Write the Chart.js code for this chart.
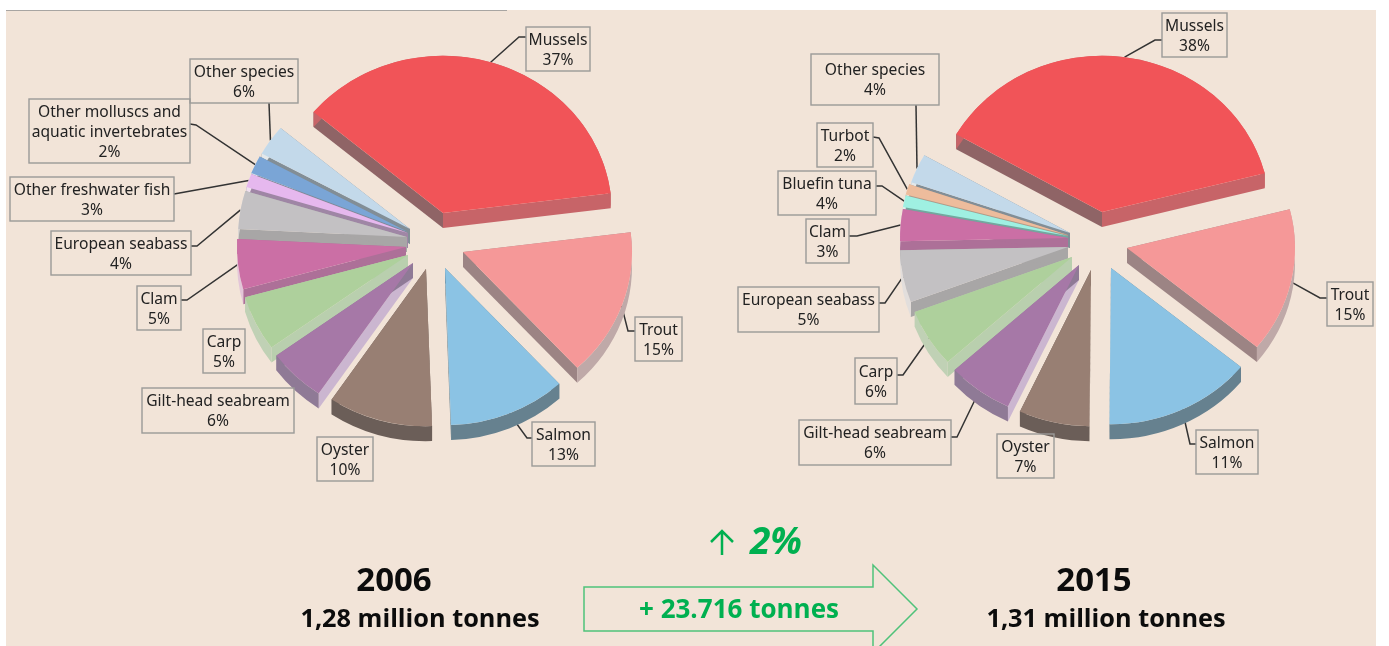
<!DOCTYPE html>
<html>
<head>
<meta charset="utf-8">
<script src="https://cdn.jsdelivr.net/npm/chart.js@4"></script>
<style>
    html, body { margin: 0; background: #fff; overflow: hidden; }
    #page { position: relative; width: 1389px; height: 646px; overflow: hidden; }
    #panel { position: absolute; left: 6px; top: 10px; width: 1370px; height: 636px; background: #f2e4d8; }
    #topline { position: absolute; left: 6px; top: 10px; width: 501px; height: 1px; background: #a8a5a2; }
    canvas { position: absolute; top: 0; }
    #arrow { position: absolute; left: 0; top: 0; }
    .txt { position: absolute; font-family: "Open Sans", sans-serif; font-weight: 700; white-space: nowrap; transform: translateX(-50%); line-height: 1; }
    .black { color: #0c0c0c; }
    .green { color: #00b050; }
</style>
</head>
<body>
<div id="page">
    <div id="panel"></div>
    <div id="topline"></div>
    <canvas id="pie2006" width="690" height="494" style="left:0"></canvas>
    <canvas id="pie2015" width="699" height="494" style="left:690px"></canvas>
    <svg id="arrow" width="1389" height="646">
        <path d="M584 587 H873 V565 L917 609 L873 653 V631 H584 Z" fill="none" stroke="#4fc27a" stroke-width="1.5"/>
        <path d="M722 555 V531 M711 542 L722 531 L733 542" fill="none" stroke="#00b050" stroke-width="2.5"/>
    </svg>
    <div class="txt black" style="left:394px;top:562px;font-size:33px">2006</div>
    <div class="txt black" style="left:420px;top:605px;font-size:25.3px">1,28 million tonnes</div>
    <div class="txt black" style="left:1094px;top:562px;font-size:33px">2015</div>
    <div class="txt black" style="left:1106px;top:605px;font-size:25.3px">1,31 million tonnes</div>
    <div class="txt green" style="left:776px;top:521px;font-size:37px;font-style:italic">2%</div>
    <div class="txt green" style="left:739px;top:595px;font-size:26px">+ 23.716 tonnes</div>
</div>

<script>
// 2006 pie
const species2006 = ['Mussels', 'Trout', 'Salmon', 'Oyster', 'Gilt-head seabream', 'Carp', 'Clam',
    'European seabass', 'Other freshwater fish', 'Other molluscs and\naquatic invertebrates', 'Other species'];
// percentages printed on the labels
const printed2006 = [37, 15, 13, 10, 6, 5, 5, 4, 3, 2, 6];
// slice sizes measured on the picture, they do not follow the printed numbers exactly
const shares2006 = [36.9, 15.2, 11.25, 10, 5.55, 5.7, 5.15, 3.9, 1.4, 1.85, 3.15];

// 2015 pie
const species2015 = ['Mussels', 'Trout', 'Salmon', 'Oyster', 'Gilt-head seabream', 'Carp', 'European seabass',
    'Clam', 'Bluefin tuna', 'Turbot', 'Other species'];
const printed2015 = [38, 15, 11, 7, 6, 6, 5, 3, 4, 2, 4];
const shares2015 = [37.7, 14.9, 14.2, 6.8, 6.3, 6, 5.4, 3.3, 1.2, 1.1, 3];

// top colour, start side, end side, rim
const paint = {
    'Mussels': ['#f15458', '#8f6466', '#c76468', '#c76468'],
    'Trout': ['#f59898', '#a08a88', '#9c8484', '#bfa9a8'],
    'Salmon': ['#8bc3e4', '#66818f', '#66818f', '#66818f'],
    'Oyster': ['#987f73', '#6b5e58', '#6b5e58', '#6b5e58'],
    'Gilt-head seabream': ['#a678a7', '#cbb6d0', '#8f7a96', '#8f7a96'],
    'Carp': ['#aed09c', '#b9cfae', '#b9cfae', '#c0d1b5'],
    'Clam': ['#cb6fa5', '#ad7098', '#ad7098', '#e3c5d8'],
    'European seabass': ['#c3c1c3', '#a8a6a6', '#a8a6a6', '#e2dedc'],
    'Other freshwater fish': ['#e6b8ee', '#9f86a5', '#9f86a5', '#efe0ee'],
    'Other molluscs and\naquatic invertebrates': ['#7aa5d6', '#7f8a96', '#7f8a96', '#dfe4ea'],
    'Other species': ['#c3d9ea', '#828e96', '#828e96', '#e4e8ea'],
    'Bluefin tuna': ['#9ff0e2', '#74a79f', '#74a79f', '#dff0ea'],
    'Turbot': ['#edbc9c', '#b59a88', '#b59a88', '#efe0d4']
};

// how far each slice tip is pulled away from the pie centre: dx, dy
const pull2006 = [[12, -34], [32, 5], [14, 21], [-5, 22], [-18, 16], [-23, 8], [-25, 0], [-24, -10], [-23, -14], [-23, -15], [-21, -18]];
const pull2015 = [[9, -35], [34, 1], [18, 21], [-2, 23], [-14, 18], [-21, 10], [-25, 0], [-25, -9], [-25, -11], [-25, -12], [-23, -14]];

// label boxes on the page: x, y, w, h
const boxes2006 = [[526, 27, 64, 44], [635, 317, 47, 44], [532, 422, 63, 44], [317, 437, 56, 44], [142, 388, 152, 45],
    [203, 329, 42, 44], [137, 286, 44, 44], [51, 231, 140, 44], [10, 177, 164, 44], [29, 99, 161, 64], [190, 59, 108, 44]];
const boxes2015 = [[1162, 13, 65, 44], [1327, 282, 46, 44], [1196, 430, 62, 44], [997, 434, 57, 44], [799, 420, 152, 45],
    [855, 358, 42, 46], [738, 287, 141, 45], [806, 219, 43, 44], [778, 171, 98, 44], [817, 123, 56, 44], [811, 54, 128, 51]];

// leader lines start at the box, they finish on the slice rim. null = no leader
const leaders2006 = [[[526, 37], [519, 37]], [[635, 331], [628, 331]], [[532, 438], [527, 438]], null, null, null,
    [[181, 300], [187, 300]], [[191, 246], [197, 246]], [[174, 194]], [[190, 124], [196, 125]], [[269, 103]]];
const leaders2015 = [[[1162, 40], [1155, 40]], [[1327, 298], [1320, 298]], [[1196, 444], [1190, 444]], null, [[951, 437], [957, 437]],
    [[897, 375], [903, 375]], [[879, 303], [885, 303]], [[849, 236], [857, 236]], [[876, 186], [882, 186]], [[873, 137], [879, 138]], [[916, 105]]];

const squash = 0.93;
const depth = 15;
const labelFont = '15.6px "Noto Sans", sans-serif';

// draws the slices with their sides, then leaders and boxes
const slicesPlugin = {
    id: 'slices3d',
    beforeDatasetDraw(chart, args, opts) {
        const ctx = chart.ctx;
        const arcs = chart.getDatasetMeta(0).data;

        // leaders go first so the pie hides their ends
        ctx.save();
        ctx.strokeStyle = '#333';
        ctx.lineWidth = 1.5;
        arcs.forEach((arc, i) => {
            if (!opts.leaders[i]) return;
            const mid = (arc.startAngle + arc.endAngle) / 2;
            ctx.beginPath();
            opts.leaders[i].forEach((p, k) => {
                if (k === 0) ctx.moveTo(p[0] - opts.left, p[1]);
                else ctx.lineTo(p[0] - opts.left, p[1]);
            });
            ctx.lineTo(arc.x + opts.pull[i][0] + arc.outerRadius * Math.cos(mid),
                arc.y + opts.pull[i][1] + arc.outerRadius * Math.sin(mid) * squash);
            ctx.stroke();
        });
        ctx.restore();

        // back slices first, the front ones cover part of their sides
        for (let i = arcs.length - 1; i >= 0; i--) {
            const arc = arcs[i];
            const colors = paint[chart.data.labels[i]];
            const r = arc.outerRadius;
            const x = arc.x, y = arc.y;
            ctx.save();
            ctx.translate(opts.pull[i][0], opts.pull[i][1]);

            [[arc.startAngle, colors[1]], [arc.endAngle, colors[2]]].forEach(side => {
                const px = x + r * Math.cos(side[0]);
                const py = y + r * Math.sin(side[0]) * squash;
                ctx.fillStyle = side[1];
                ctx.beginPath();
                ctx.moveTo(x, y);
                ctx.lineTo(px, py);
                ctx.lineTo(px, py + depth);
                ctx.lineTo(x, y + depth);
                ctx.closePath();
                ctx.fill();
            });

            ctx.fillStyle = colors[3];
            ctx.beginPath();
            ctx.ellipse(x, y, r, r * squash, 0, arc.startAngle, arc.endAngle);
            ctx.ellipse(x, y + depth, r, r * squash, 0, arc.endAngle, arc.startAngle, true);
            ctx.closePath();
            ctx.fill();

            // the top face is the library's own arc, flattened a little
            ctx.translate(0, y * (1 - squash));
            ctx.scale(1, squash);
            arc.draw(ctx);
            ctx.restore();
        }
        return false;
    },
    afterDatasetsDraw(chart, args, opts) {
        const ctx = chart.ctx;
        ctx.save();
        ctx.font = labelFont;
        ctx.textAlign = 'center';
        ctx.textBaseline = 'middle';
        chart.data.labels.forEach((name, i) => {
            const b = opts.boxes[i];
            ctx.strokeStyle = '#9b9a98';
            ctx.lineWidth = 1.4;
            ctx.strokeRect(b[0] - opts.left, b[1], b[2], b[3]);
            ctx.fillStyle = '#222';
            const lines = (name + '\n' + opts.printed[i] + '%').split('\n');
            lines.forEach((line, k) => {
                const cy = b[1] + b[3] / 2 + 1.5 + (k - (lines.length - 1) / 2) * 20;
                ctx.fillText(line, b[0] + b[2] / 2 - opts.left, cy);
            });
        });
        ctx.restore();
    }
};

function makePie(id, labels, shares, printed, pull, boxes, leaders, left, padLeft, rotation, radius) {
    return new Chart(document.getElementById(id), {
        type: 'pie',
        data: {
            labels: labels,
            datasets: [{
                data: shares,
                backgroundColor: labels.map(name => paint[name][0]),
                borderWidth: 0
            }]
        },
        options: {
            responsive: false,
            animation: false,
            rotation: rotation,
            radius: radius,
            layout: { padding: { left: padLeft } },
            events: [],
            plugins: {
                legend: { display: false },
                tooltip: { enabled: false },
                slices3d: { printed, pull, boxes, leaders, left }
            }
        },
        plugins: [slicesPlugin]
    });
}

makePie('pie2006', species2006, shares2006, printed2006, pull2006, boxes2006, leaders2006, 0, 172, -50, 169);
makePie('pie2015', species2015, shares2015, printed2015, pull2015, boxes2015, leaders2015, 690, 107, -60.2, 168);
</script>
</body>
</html>
